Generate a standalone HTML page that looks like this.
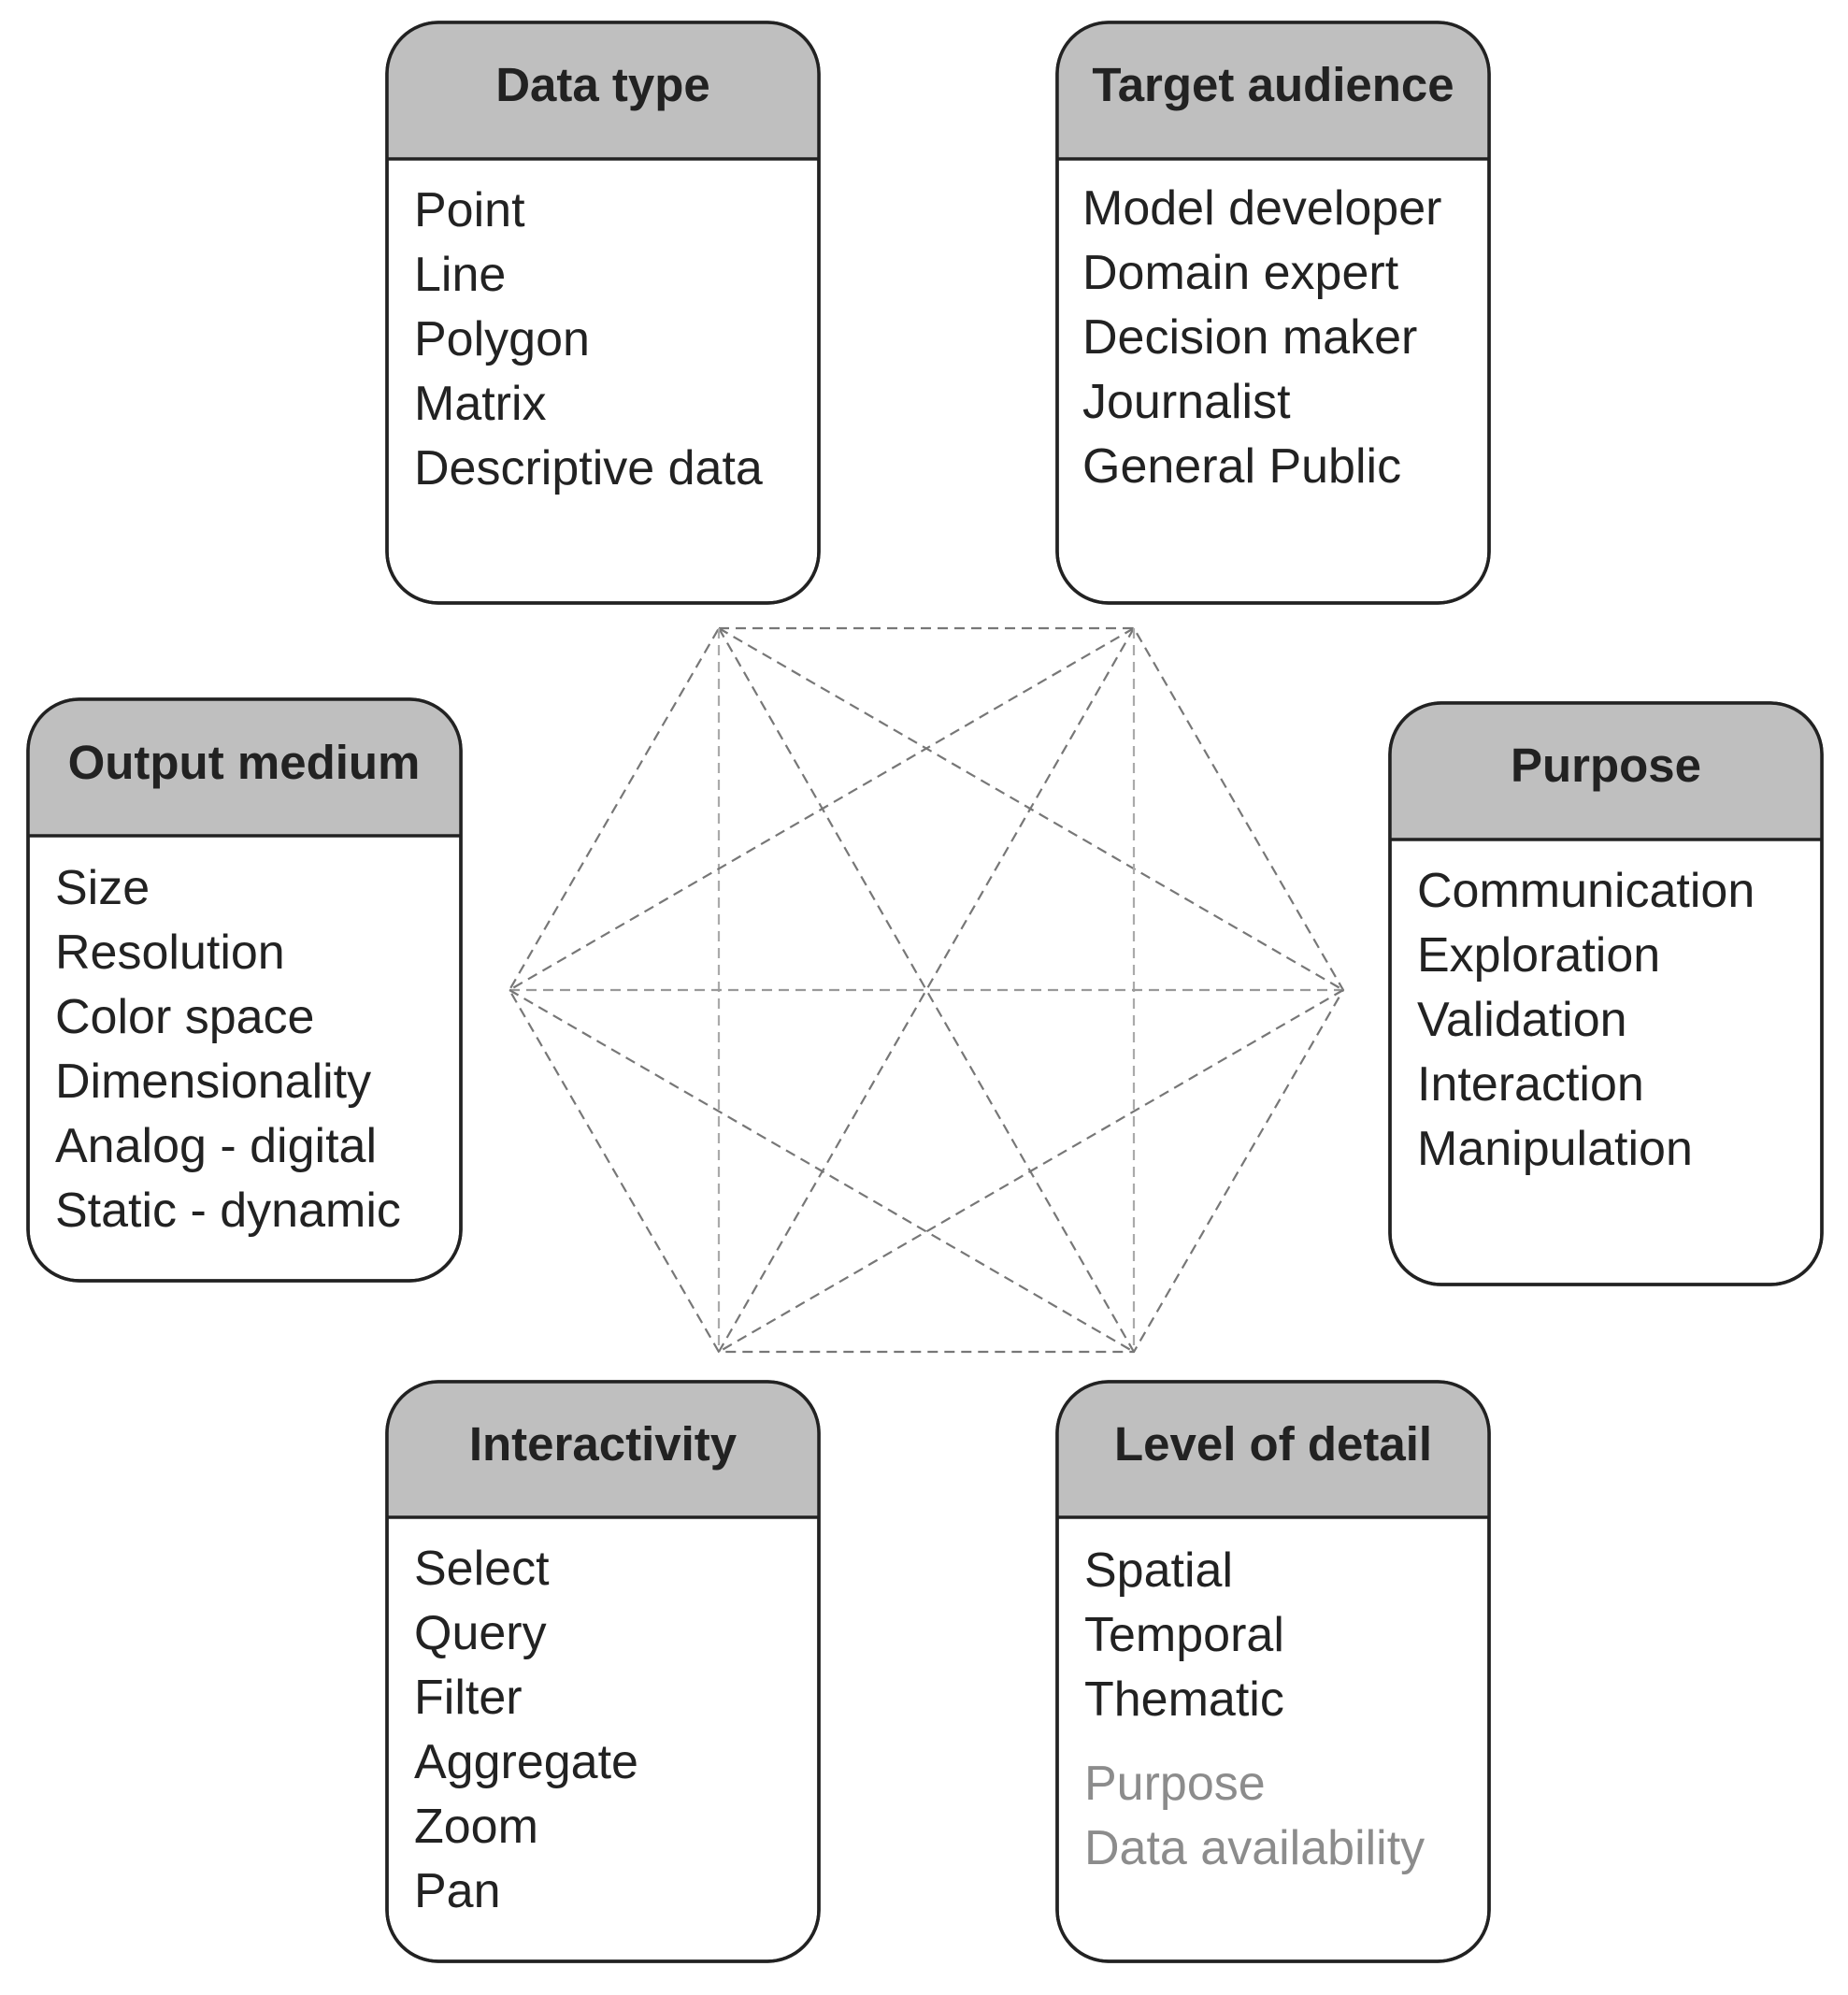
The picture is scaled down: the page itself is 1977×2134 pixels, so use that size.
<!DOCTYPE html>
<html><head><meta charset="utf-8"><style>
html,body{margin:0;padding:0;background:#fff;}
svg{display:block;}
text{font-family:"Liberation Sans",Arial,sans-serif;}
.h{font-weight:bold;font-size:51px;fill:#222;text-anchor:middle;}
.i{font-size:52px;fill:#222;}
.g{font-size:52px;fill:#8c8c8c;}
.d{stroke:#777;stroke-width:2.2;stroke-dasharray:11 7;fill:none;}
</style></head><body>
<svg width="1977" height="2134" viewBox="0 0 1977 2134" xmlns="http://www.w3.org/2000/svg">
<g class="d">
<polygon points="769,672 1213,672 1437,1059 1213,1446 769,1446 545,1059"/>
<line x1="769" y1="672" x2="1437" y2="1059"/>
<line x1="769" y1="672" x2="1213" y2="1446"/>
<line x1="769" y1="672" x2="769" y2="1446" style="stroke:#aaa"/>
<line x1="1213" y1="672" x2="545" y2="1059"/>
<line x1="1213" y1="672" x2="769" y2="1446"/>
<line x1="1213" y1="672" x2="1213" y2="1446" style="stroke:#aaa"/>
<line x1="545" y1="1059" x2="1437" y2="1059" style="stroke:#999"/>
<line x1="545" y1="1059" x2="1213" y2="1446"/>
<line x1="1437" y1="1059" x2="769" y2="1446"/>
</g>
<defs>
<clipPath id="c1"><rect x="414" y="24" width="462" height="621" rx="55"/></clipPath>
<clipPath id="c2"><rect x="1131" y="24" width="462" height="621" rx="55"/></clipPath>
<clipPath id="c3"><rect x="30" y="748" width="463" height="622" rx="55"/></clipPath>
<clipPath id="c4"><rect x="1487" y="752" width="462" height="622" rx="55"/></clipPath>
<clipPath id="c5"><rect x="414" y="1478" width="462" height="620" rx="55"/></clipPath>
<clipPath id="c6"><rect x="1131" y="1478" width="462" height="620" rx="55"/></clipPath>
</defs>
<!-- boxes -->
<g stroke="#222" stroke-width="3.5">
<rect x="414" y="24" width="462" height="621" rx="55" fill="#fff"/>
<rect x="414" y="24" width="462" height="146" fill="#bfbfbf" clip-path="url(#c1)" stroke="none"/>
<line x1="414" y1="170" x2="876" y2="170"/>
<rect x="414" y="24" width="462" height="621" rx="55" fill="none"/>

<rect x="1131" y="24" width="462" height="621" rx="55" fill="#fff"/>
<rect x="1131" y="24" width="462" height="146" fill="#bfbfbf" clip-path="url(#c2)" stroke="none"/>
<line x1="1131" y1="170" x2="1593" y2="170"/>
<rect x="1131" y="24" width="462" height="621" rx="55" fill="none"/>

<rect x="30" y="748" width="463" height="622" rx="55" fill="#fff"/>
<rect x="30" y="748" width="463" height="146" fill="#bfbfbf" clip-path="url(#c3)" stroke="none"/>
<line x1="30" y1="894" x2="493" y2="894"/>
<rect x="30" y="748" width="463" height="622" rx="55" fill="none"/>

<rect x="1487" y="752" width="462" height="622" rx="55" fill="#fff"/>
<rect x="1487" y="752" width="462" height="146" fill="#bfbfbf" clip-path="url(#c4)" stroke="none"/>
<line x1="1487" y1="898" x2="1949" y2="898"/>
<rect x="1487" y="752" width="462" height="622" rx="55" fill="none"/>

<rect x="414" y="1478" width="462" height="620" rx="55" fill="#fff"/>
<rect x="414" y="1478" width="462" height="145" fill="#bfbfbf" clip-path="url(#c5)" stroke="none"/>
<line x1="414" y1="1623" x2="876" y2="1623"/>
<rect x="414" y="1478" width="462" height="620" rx="55" fill="none"/>

<rect x="1131" y="1478" width="462" height="620" rx="55" fill="#fff"/>
<rect x="1131" y="1478" width="462" height="145" fill="#bfbfbf" clip-path="url(#c6)" stroke="none"/>
<line x1="1131" y1="1623" x2="1593" y2="1623"/>
<rect x="1131" y="1478" width="462" height="620" rx="55" fill="none"/>
</g>
<!-- headers -->
<text class="h" x="645" y="108">Data type</text>
<text class="h" x="1362" y="108">Target audience</text>
<text class="h" x="261" y="833">Output medium</text>
<text class="h" x="1718" y="836">Purpose</text>
<text class="h" x="645" y="1562">Interactivity</text>
<text class="h" x="1362" y="1562">Level of detail</text>
<!-- items -->
<g class="i">
<text x="443" y="242">Point</text><text x="443" y="311">Line</text><text x="443" y="380">Polygon</text><text x="443" y="449">Matrix</text><text x="443" y="518">Descriptive data</text>
<text x="1158" y="240">Model developer</text><text x="1158" y="309">Domain expert</text><text x="1158" y="378">Decision maker</text><text x="1158" y="447">Journalist</text><text x="1158" y="516">General Public</text>
<text x="59" y="967">Size</text><text x="59" y="1036">Resolution</text><text x="59" y="1105">Color space</text><text x="59" y="1174">Dimensionality</text><text x="59" y="1243">Analog - digital</text><text x="59" y="1312">Static - dynamic</text>
<text x="1516" y="970">Communication</text><text x="1516" y="1039">Exploration</text><text x="1516" y="1108">Validation</text><text x="1516" y="1177">Interaction</text><text x="1516" y="1246">Manipulation</text>
<text x="443" y="1695">Select</text><text x="443" y="1764">Query</text><text x="443" y="1833">Filter</text><text x="443" y="1902">Aggregate</text><text x="443" y="1971">Zoom</text><text x="443" y="2040">Pan</text>
<text x="1160" y="1697">Spatial</text><text x="1160" y="1766">Temporal</text><text x="1160" y="1835">Thematic</text>
</g>
<text class="g" x="1160" y="1925">Purpose</text>
<text class="g" x="1160" y="1994">Data availability</text>
</svg>
</body></html>
